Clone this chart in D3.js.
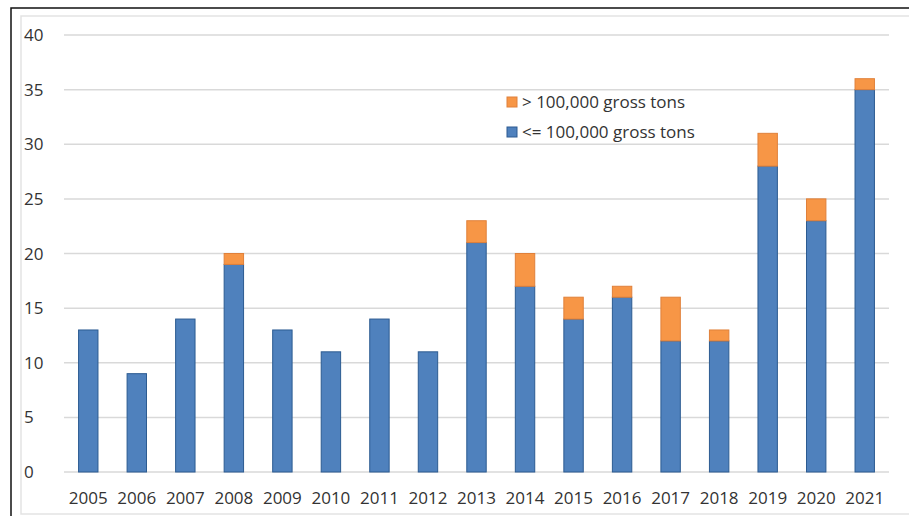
<!DOCTYPE html>
<html>
<head>
<meta charset="utf-8">
<style>
  body { margin: 0; background: #fff; }
  svg text { font-family: "Open Sans", "Noto Sans", sans-serif; fill: #333; }
</style>
</head>
<body>
<svg width="909" height="516"></svg>
<script src="https://d3js.org/d3.v7.min.js"></script>
<script>

var years = ["2005","2006","2007","2008","2009","2010","2011","2012","2013","2014","2015","2016","2017","2018","2019","2020","2021"];
var small = [13, 9, 14, 19, 13, 11, 14, 11, 21, 17, 14, 16, 12, 12, 28, 23, 35];
var large = [0, 0, 0, 1, 0, 0, 0, 0, 2, 3, 2, 1, 4, 1, 3, 2, 1];
var yTicks = [0, 5, 10, 15, 20, 25, 30, 35, 40];
var seriesNames = ["> 100,000 gross tons", "<= 100,000 gross tons"];

var svg = d3.select("svg");

// frames
svg.append("rect").attr("x", 11).attr("y", 8).attr("width", 920).attr("height", 540)
    .attr("fill", "none").attr("stroke", "#111").attr("stroke-width", 1.5);
svg.append("rect").attr("x", 21).attr("y", 16).attr("width", 900).attr("height", 498)
    .attr("fill", "none").attr("stroke", "#e3e3e3").attr("stroke-width", 1.5);

var x = d3.scaleBand().domain(years).range([64, 889]).paddingInner(0.6).paddingOuter(0.3);
var y = d3.scaleLinear().domain([0, 40]).range([472, 35]);

// gridlines
svg.append("g").selectAll("line").data(yTicks).enter().append("line")
    .attr("x1", 64).attr("x2", 889)
    .attr("y1", function(d) { return y(d); }).attr("y2", function(d) { return y(d); })
    .attr("stroke", "#d9d9d9").attr("stroke-width", 1.5);

// y labels
svg.append("g").selectAll("text").data(yTicks).enter().append("text")
    .attr("x", 24).attr("y", function(d) { return y(d); })
    .attr("dy", "0.36em").attr("font-size", 17)
    .text(function(d) { return d; });

var table = years.map(function(yr, i) { return { year: yr, small: small[i], large: large[i] }; });
var stack = d3.stack().keys(["small", "large"])(table);
var fills = { small: "#4f81bd", large: "#f79646" };
var strokes = { small: "#2c5b91", large: "#e0803a" };

svg.append("g").selectAll("g").data(stack).enter().append("g")
    .attr("fill", function(s) { return fills[s.key]; })
    .attr("stroke", function(s) { return strokes[s.key]; })
  .selectAll("rect").data(function(s) { return s.filter(function(d) { return d[1] > d[0]; }); })
  .enter().append("rect")
    .attr("x", function(d) { return x(d.data.year); })
    .attr("width", x.bandwidth())
    .attr("y", function(d) { return y(d[1]); })
    .attr("height", function(d) { return y(d[0]) - y(d[1]); })
    .attr("stroke-width", 1);

// x labels
svg.append("g").selectAll("text").data(years).enter().append("text")
    .attr("x", function(d) { return x(d) + x.bandwidth() / 2; })
    .attr("y", 498).attr("dy", "0.36em")
    .attr("text-anchor", "middle").attr("font-size", 17)
    .text(function(d) { return d; });

// legend
var legend = svg.append("g").selectAll("g").data(seriesNames).enter().append("g")
    .attr("transform", function(d, i) { return "translate(507," + (102 + i * 30) + ")"; });
legend.append("rect").attr("x", 0).attr("y", -5).attr("width", 10).attr("height", 10)
    .attr("fill", function(d, i) { return i === 0 ? fills.large : fills.small; })
    .attr("stroke", function(d, i) { return i === 0 ? strokes.large : strokes.small; });
legend.append("text").attr("x", 15).attr("dy", "0.36em").attr("font-size", 17)
    .text(function(d) { return d; });

</script>
</body>
</html>
